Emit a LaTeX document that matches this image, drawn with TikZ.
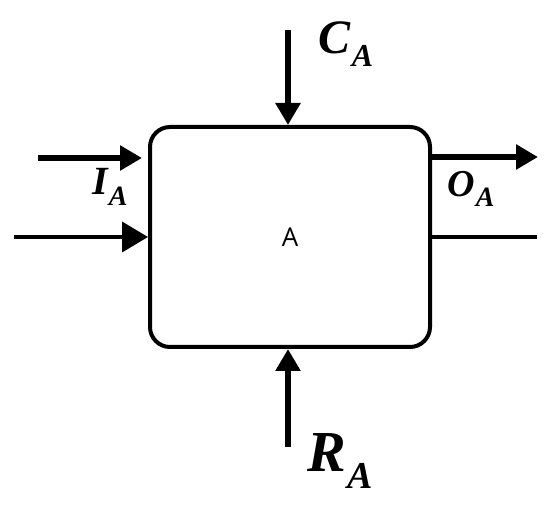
\documentclass[tikz,border=0pt]{standalone}
\usepackage{fontspec}
\newfontfamily\lblfont{Liberation Serif}
\newfontfamily\boxfont{Open Sans}
\usetikzlibrary{arrows.meta}
\newcommand{\mylbl}[4]{{\lblfont\bfseries\itshape\fontsize{#2}{#2}\selectfont #1\kern1pt\raisebox{-0.28em}{\fontsize{#4}{#4}\selectfont #3}}}
\begin{document}
\begin{tikzpicture}[x=1pt,y=-1pt,
  boxst/.style={draw,line width=4pt,rounded corners=20pt,minimum width=280pt,minimum height=220pt,inner sep=0pt},
  thick arr/.style={line width=6.5pt,-{Triangle[length=22pt,width=24pt]}},
  thin arr/.style={line width=4pt,-{Triangle[length=26pt,width=30pt]}},
  plain/.style={line width=4pt},
  lbl/.style={inner sep=0pt,anchor=center}]
\useasboundingbox (0,0) rectangle (550,505);
\node[boxst] (box) at (290,237) {};
\node[font=\boxfont\fontsize{26}{28}\selectfont] (t) at (290,237) {A};
% top control
\coordinate (ctop) at (288,30);
\coordinate (cbot) at (288,125);
\draw[thick arr] (ctop) -- (cbot);
\node[lbl] (cl) at (346,44) {\mylbl{C}{48}{A}{32}};
% bottom resource
\coordinate (rbot) at (288,447);
\coordinate (rtop) at (288,349);
\draw[thick arr] (rbot) -- (rtop);
\node[lbl] (rl) at (340,461) {\mylbl{R}{58}{A}{38}};
% left input arrow top
\coordinate (i1s) at (38,158);
\coordinate (i1e) at (142,158);
\draw[thick arr] (i1s) -- (i1e);
\node[lbl] (il) at (110,187) {\mylbl{I}{40}{A}{28}};
% left input line
\coordinate (i2s) at (14,237);
\coordinate (i2e) at (148,237);
\draw[thin arr] (i2s) -- (i2e);
% right output arrow
\coordinate (o1s) at (432,157);
\coordinate (o1e) at (538,157);
\draw[thick arr] (o1s) -- (o1e);
\node[lbl] (ol) at (471,189) {\mylbl{O}{38}{A}{28}};
% right output line
\coordinate (o2s) at (430,237);
\coordinate (o2e) at (537,237);
\draw[plain] (o2s) -- (o2e);
\end{tikzpicture}
\end{document}
